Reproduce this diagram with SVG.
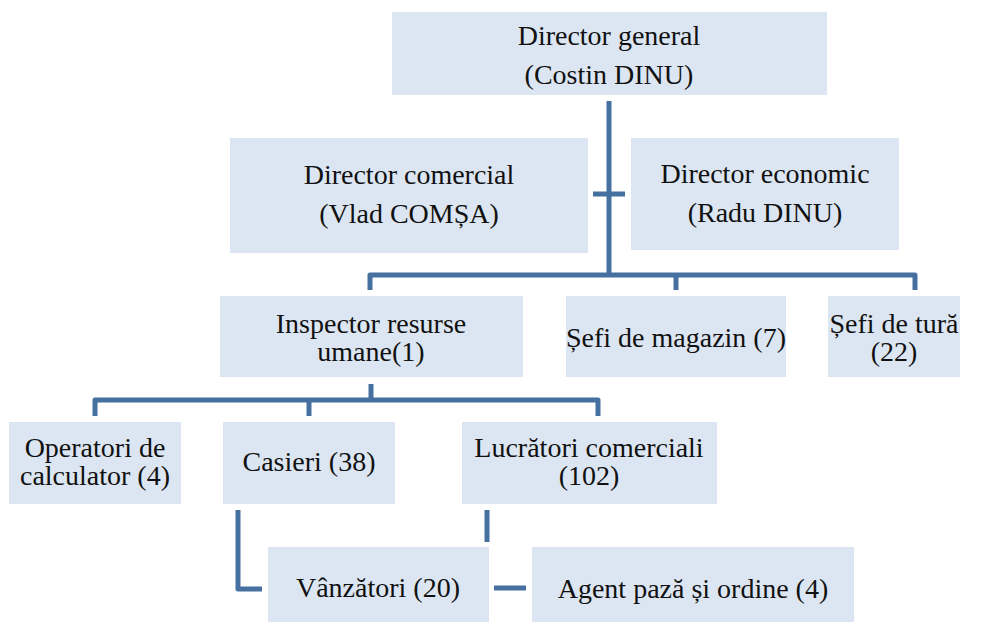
<svg xmlns="http://www.w3.org/2000/svg" width="990" height="626" viewBox="0 0 990 626">
  <style>
    .box { fill: #dce6f2; }
    .lbl { font-family: "Liberation Serif", "Times New Roman", serif; font-size: 28px; fill: #111; text-anchor: middle; }
    .ln { fill: none; stroke: #46709f; stroke-width: 5; stroke-linejoin: round; }
  </style>
  <rect width="990" height="626" fill="#ffffff"/>

  <g id="connectors">
    <!-- Director general trunk -->
    <path class="ln" d="M609 101 V275"/>
    <path class="ln" d="M593 194 H625"/>
    <!-- Level 2 bus -->
    <path class="ln" d="M370 290 V275 H915 V290"/>
    <path class="ln" d="M676 275 V290"/>
    <!-- Inspector to level 3 -->
    <path class="ln" d="M371 384 V400"/>
    <path class="ln" d="M95 416 V400 H598 V416"/>
    <path class="ln" d="M309 400 V416"/>
    <!-- Casieri to Vânzători -->
    <path class="ln" d="M238 510 V589 H262"/>
    <!-- Lucrători stub -->
    <path class="ln" d="M487 510 V542"/>
    <!-- Vânzători to Agent -->
    <path class="ln" d="M494 588 H526"/>
  </g>

  <g id="director-general">
    <rect class="box" x="392" y="12" width="435" height="83"/>
    <text class="lbl" x="609" y="45">Director general</text>
    <text class="lbl" x="609" y="84">(Costin DINU)</text>
  </g>

  <g id="director-comercial">
    <rect class="box" x="230" y="138" width="358" height="115"/>
    <text class="lbl" x="409" y="184">Director comercial</text>
    <text class="lbl" x="409" y="223">(Vlad COMȘA)</text>
  </g>

  <g id="director-economic">
    <rect class="box" x="631" y="138" width="268" height="112"/>
    <text class="lbl" x="765" y="183">Director economic</text>
    <text class="lbl" x="765" y="222">(Radu DINU)</text>
  </g>

  <g id="inspector-resurse">
    <rect class="box" x="220" y="296" width="303" height="81"/>
    <text class="lbl" x="371" y="333">Inspector resurse</text>
    <text class="lbl" x="371" y="361">umane(1)</text>
  </g>

  <g id="sefi-magazin">
    <rect class="box" x="566" y="296" width="220" height="81"/>
    <text class="lbl" x="676" y="347">Șefi de magazin (7)</text>
  </g>

  <g id="sefi-tura">
    <rect class="box" x="828" y="296" width="132" height="81"/>
    <text class="lbl" x="894" y="333">Șefi de tură</text>
    <text class="lbl" x="894" y="361">(22)</text>
  </g>

  <g id="operatori-calculator">
    <rect class="box" x="9" y="422" width="172" height="82"/>
    <text class="lbl" x="95" y="457">Operatori de</text>
    <text class="lbl" x="95" y="485">calculator (4)</text>
  </g>

  <g id="casieri">
    <rect class="box" x="223" y="422" width="172" height="82"/>
    <text class="lbl" x="309" y="471">Casieri (38)</text>
  </g>

  <g id="lucratori-comerciali">
    <rect class="box" x="462" y="422" width="255" height="82"/>
    <text class="lbl" x="589" y="457">Lucrători comerciali</text>
    <text class="lbl" x="589" y="485">(102)</text>
  </g>

  <g id="vanzatori">
    <rect class="box" x="268" y="547" width="221" height="75"/>
    <text class="lbl" x="378" y="597">Vânzători (20)</text>
  </g>

  <g id="agent-paza">
    <rect class="box" x="532" y="547" width="322" height="75"/>
    <text class="lbl" x="693" y="598">Agent pază și ordine (4)</text>
  </g>
</svg>
